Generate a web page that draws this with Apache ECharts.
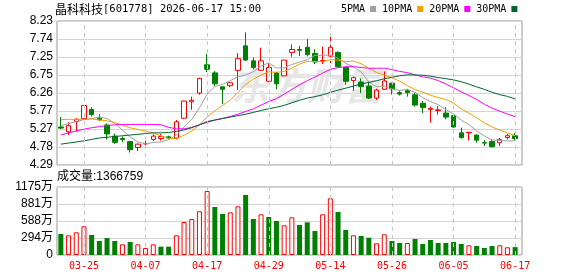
<!DOCTYPE html>
<html><head><meta charset="utf-8">
<script src="https://cdn.jsdelivr.net/npm/echarts@6/dist/echarts.min.js"></script>
<style>html,body{margin:0;padding:0;background:#fff;}#c{width:578px;height:276px;}</style>
</head><body><div id="c"></div>
<script>
// ---- data ----
const titleName = '晶科科技';
const titleRest = '[601778] 2026-06-17 15:00';
const volumeTitle = '成交量:1366759';
const maNames = ['5PMA', '10PMA', '20PMA', '30PMA'];
const dates = ['03-20','03-23','03-24','03-25','03-26','03-27','03-30','03-31','04-01','04-02',
  '04-03','04-07','04-08','04-09','04-10','04-13','04-14','04-15','04-16','04-17',
  '04-20','04-21','04-22','04-23','04-24','04-27','04-28','04-29','04-30','05-06',
  '05-07','05-08','05-11','05-12','05-13','05-14','05-15','05-18','05-19','05-20',
  '05-21','05-22','05-25','05-26','05-27','05-28','05-29','06-01','06-02','06-03',
  '06-04','06-05','06-08','06-09','06-10','06-11','06-12','06-15','06-16','06-17'];
const labelDates = ['03-25','04-07','04-17','04-29','05-14','05-26','06-05','06-17'];
const opens = [5.33,5.20,5.48,5.56,5.81,5.57,5.385,5.08,5.015,4.93,
  4.77,4.865,4.99,5.015,5.06,5.03,5.57,6.02,6.26,7.03,
  6.81,6.43,6.46,6.88,7.55,7.14,6.88,6.58,6.81,6.73,
  7.37,7.45,7.51,7.34,7.12,7.27,7.37,6.96,6.60,6.56,
  6.45,6.12,6.36,6.53,6.27,6.32,6.21,5.98,5.81,5.78,
  5.71,5.64,5.17,5.17,5.11,4.90,4.93,4.90,5.04,5.09];
const closes = [5.30,5.365,5.54,5.92,5.67,5.53,5.14,4.91,4.99,4.71,
  4.86,4.88,5.08,5.07,5.03,5.47,6.04,6.06,6.66,6.91,
  6.51,6.36,6.54,7.20,7.16,6.96,7.14,6.96,6.51,7.16,
  7.45,7.43,7.31,7.11,7.15,7.51,6.98,6.58,6.68,6.44,
  6.12,6.34,6.59,6.37,6.23,6.27,5.93,5.86,5.84,5.80,
  5.60,5.33,5.04,5.185,4.97,4.89,4.79,4.99,5.09,5.015];
const lows = [5.27,5.11,5.20,5.55,5.62,5.49,4.99,4.87,4.91,4.63,
  4.67,4.80,4.95,4.96,4.99,4.99,5.55,5.80,6.21,6.83,
  6.45,5.96,6.42,6.34,7.14,6.91,6.87,6.55,6.36,6.72,
  7.25,7.27,7.26,7.05,7.05,7.08,6.96,6.48,6.32,6.26,
  6.10,6.07,6.35,6.22,6.19,6.16,5.89,5.71,5.45,5.67,
  5.54,5.31,5.01,4.96,4.90,4.81,4.77,4.81,4.99,4.97];
const highs = [5.60,5.46,5.57,5.93,5.87,5.68,5.43,5.15,5.07,4.95,
  4.88,4.95,5.13,5.14,5.09,5.52,6.05,6.16,6.68,7.33,
  6.86,6.43,6.56,7.35,7.92,7.23,7.50,7.07,6.84,7.17,
  7.59,7.55,7.74,7.46,7.53,7.85,7.40,6.97,6.71,6.66,
  6.59,6.38,6.85,6.54,6.32,6.37,6.26,6.04,5.885,5.90,
  5.87,5.65,5.31,5.19,5.12,4.97,4.97,5.03,5.14,5.17];
// volume in units of 10,000 (万)
const volumes = [363,340,392,496,346,242,294,242,184,225,
  184,121,184,144,144,340,570,622,755,1106,
  829,708,737,841,1037,622,703,657,588,513,
  651,518,565,415,703,979,743,432,340,328,
  299,202,357,242,207,207,276,190,259,207,
  207,225,190,167,156,121,156,167,133,136.6759];
const ma5Lead = [5.36,5.42,5.48,5.53];
const ma10Lead = [5.53,5.54,5.54,5.54,5.55,5.52,5.50,5.45,5.38];
const ma20Lead = [5.11,5.17,5.22,5.27,5.31,5.34,5.37,5.39,5.40,5.40,5.40,5.40,5.40,5.39,5.32,5.28,5.28,5.32,5.39];
const ma30Lead = [4.86,4.89,4.92,4.95,4.99,5.03,5.05,5.07,5.09,5.11,5.13,5.15,5.17,5.17,5.18,5.21,5.25,5.31,5.39,5.48,5.52,5.56,5.60,5.64,5.68,5.73,5.78,5.83,5.87];
const priceTicks = ['4.29','4.78','5.27','5.77','6.26','6.75','7.25','7.74','8.23'];
const volTicks = ['0','294万','588万','881万','1175万'];
const priceMin = 4.29, priceMax = 8.23, priceStep = 0.4925;
const volMax = 1175, volStep = 293.75;

// ---- build ----
function movingAvg(n, lead) {
  return closes.map((c, i) => {
    if (i < n - 1) return lead[i];
    let s = 0;
    for (let k = i - n + 1; k <= i; k++) s += closes[k];
    return +(s / n).toFixed(4);
  });
}
const maData = [movingAvg(5, ma5Lead), movingAvg(10, ma10Lead), movingAvg(20, ma20Lead), movingAvg(30, ma30Lead)];
const maColors = ['#a0a0a0', '#f5a000', '#ff00ff', '#006633'];
const UP = '#ff0000', DOWN = '#008000';

const kData = dates.map((d, i) => [opens[i], closes[i], lows[i], highs[i]]);
const volData = volumes.map((v, i) => {
  const prev = i > 0 ? closes[i - 1] : opens[i];
  const up = closes[i] >= prev;
  return { value: v, itemStyle: up ? { color: '#ffffff', borderColor: UP, borderWidth: 1 } : { color: DOWN, borderColor: DOWN, borderWidth: 0 } };
});
const vLines = {
  silent: true, symbol: ['none', 'none'], animation: false,
  label: { show: false },
  lineStyle: { color: '#c8c8c8', type: [4, 4], width: 1 },
  emphasis: { disabled: true },
  data: labelDates.map(d => ({ xAxis: d }))
};

const labelFont = 'Liberation Sans, Arial, Noto Sans CJK SC, sans-serif';
const hiddenCat = { type: 'category', data: dates, boundaryGap: true, axisLine: { show: false }, axisTick: { show: false }, axisLabel: { show: false }, splitLine: { show: false } };
const hiddenVal = { type: 'value', show: false, min: 0, max: 1, splitLine: { show: false } };

const chart = echarts.init(document.getElementById('c'), null, { renderer: 'canvas' });
chart.setOption({
  animation: false,
  backgroundColor: '#ffffff',
  title: {
    text: '{c|' + titleName + '}{m|' + titleRest + '}', left: 55, top: 3, padding: 0,
    textStyle: {
      fontWeight: 'normal', color: '#000',
      rich: {
        c: { fontSize: 12, color: '#000', fontFamily: 'Noto Sans CJK SC, sans-serif' },
        m: { fontSize: 10.5, color: '#000', fontFamily: 'DejaVu Sans Mono, monospace' }
      }
    }
  },
  legend: {
    data: maNames, left: 341, top: 4, padding: 0, align: 'right', icon: 'rect',
    itemWidth: 6, itemHeight: 6, itemGap: 6, selectedMode: false,
    textStyle: { fontSize: 10, color: '#000', fontFamily: 'DejaVu Sans Mono, monospace', padding: [0, 0, 0, 0] }
  },
  graphic: [
    { type: 'text', left: 231, top: 67, z: 1, silent: true,
      style: { text: '东方财富', fill: '#e6e6e6', font: 'italic bold 38px "Noto Sans CJK SC", sans-serif' } },
    { type: 'text', left: 57, top: 171, silent: true,
      style: { text: volumeTitle, fill: '#000', font: '12px "Liberation Sans", Arial, "Noto Sans CJK SC", sans-serif' } }
  ],
  grid: [
    { left: 57, top: 21, width: 465, height: 144, show: true, borderColor: '#999', borderWidth: 1, backgroundColor: 'transparent' },
    { left: 57, top: 21, width: 462, height: 144 },
    { left: 57, top: 187, width: 465, height: 68, show: true, borderColor: '#999', borderWidth: 1, backgroundColor: 'transparent' },
    { left: 57, top: 187, width: 462, height: 68 }
  ],
  xAxis: [
    Object.assign({ gridIndex: 0 }, hiddenVal),
    Object.assign({ gridIndex: 1 }, hiddenCat),
    Object.assign({ gridIndex: 2 }, hiddenVal),
    Object.assign({}, hiddenCat, {
      gridIndex: 3,
      axisLabel: {
        show: true, color: UP, fontSize: 10, margin: 6,
        fontFamily: 'DejaVu Sans Mono, monospace',
        interval: (idx) => labelDates.indexOf(dates[idx]) >= 0
      }
    })
  ],
  yAxis: [
    { gridIndex: 0, type: 'value', min: priceMin, max: priceMax, interval: priceStep,
      axisLine: { show: false }, axisTick: { show: false },
      axisLabel: { color: '#000', fontSize: 12, margin: 4, fontFamily: labelFont, formatter: (v, i) => priceTicks[i] },
      splitLine: { show: true, lineStyle: { color: '#d4d4d4', width: 1, type: 'solid' } } },
    { gridIndex: 1, type: 'value', min: priceMin, max: priceMax, show: false, splitLine: { show: false } },
    { gridIndex: 2, type: 'value', min: 0, max: volMax, interval: volStep,
      axisLine: { show: false }, axisTick: { show: false },
      axisLabel: { color: '#000', fontSize: 12, margin: 4, fontFamily: labelFont, formatter: (v, i) => volTicks[i] },
      splitLine: { show: true, lineStyle: { color: '#d4d4d4', width: 1, type: 'solid' } } },
    { gridIndex: 3, type: 'value', min: 0, max: volMax, show: false, splitLine: { show: false } }
  ],
  series: [
    { type: 'candlestick', name: 'K', xAxisIndex: 1, yAxisIndex: 1, data: kData, barWidth: 5, z: 3,
      itemStyle: { color: '#ffffff', color0: DOWN, borderColor: UP, borderColor0: DOWN, borderWidth: 1 },
      emphasis: { disabled: true },
      markLine: vLines },
    ...maNames.map((n, k) => ({
      type: 'line', name: n, xAxisIndex: 1, yAxisIndex: 1, data: maData[k], z: 4,
      showSymbol: false, symbol: 'none', smooth: false, silent: true,
      itemStyle: { color: maColors[k] },
      lineStyle: { color: maColors[k], width: 1 }
    })),
    { type: 'bar', name: 'VOL', xAxisIndex: 3, yAxisIndex: 3, data: volData, barWidth: 5, z: 3,
      emphasis: { disabled: true }, markLine: vLines }
  ]
});
</script></body></html>
